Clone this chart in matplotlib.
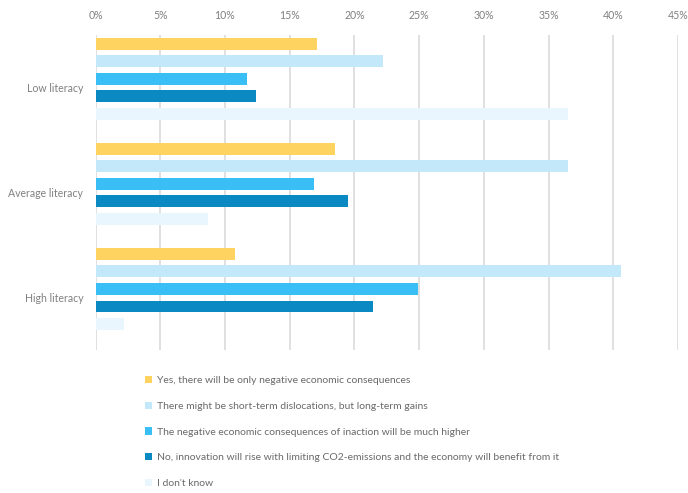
import numpy as np
import matplotlib
matplotlib.use("Agg")
import matplotlib.pyplot as plt
from matplotlib.patches import Patch
from matplotlib.ticker import FuncFormatter

plt.rcParams["font.family"] = ["Lato", "DejaVu Sans"]

groups = ["Low literacy", "Average literacy", "High literacy"]
answers = [
    "Yes, there will be only negative economic consequences",
    "There might be short-term dislocations, but long-term gains",
    "The negative economic consequences of inaction will be much higher",
    "No, innovation will rise with limiting CO2-emissions and the economy will benefit from it",
    "I don't know",
]
colors = ["#FFD35F", "#C3E8FA", "#39BEF5", "#0B89C3", "#E9F6FD"]

# share of respondents (%) per answer, one list per literacy group
low = [17.1, 22.2, 11.7, 12.4, 36.5]
average = [18.5, 36.5, 16.9, 19.5, 8.7]
high = [10.8, 40.6, 24.9, 21.4, 2.2]
values = np.array([low, average, high])

fig = plt.figure(figsize=(6.88, 4.93), dpi=100)
ax = fig.add_axes([0.139, 0.29, 0.8465, 0.639])

slot = 1 / 6
for i, (ans, col) in enumerate(zip(answers, colors)):
    ypos = np.arange(len(groups)) - 0.5 + (i + 0.5) * slot
    ax.barh(ypos, values[:, i], height=slot * 0.66, color=col, label=ans, zorder=3)

ax.set_xlim(0, 45)
ax.set_ylim(2.5, -0.5)
ax.set_xticks(np.arange(0, 46, 5))
ax.xaxis.set_major_formatter(FuncFormatter(lambda v, p: f"{v:.0f}%"))
ax.xaxis.tick_top()
ax.set_yticks(range(len(groups)))
ax.set_yticklabels(groups)
ax.tick_params(axis="both", length=0, colors="#808080", labelsize=7.6)
ax.tick_params(axis="x", pad=10)
ax.tick_params(axis="y", pad=9)
ax.grid(axis="x", color="#dadada", linewidth=1.2, zorder=0)
for s in ax.spines.values():
    s.set_visible(False)

handles = [Patch(facecolor=c, edgecolor="none") for c in colors]
fig.legend(handles, answers, loc="upper left", bbox_to_anchor=(0.211, 0.237),
           frameon=False, fontsize=7.5, labelcolor="#6a6a6a",
           handlelength=0.7, handleheight=0.7, handletextpad=0.45,
           labelspacing=1.57, borderpad=0, borderaxespad=0)

fig.savefig("out.png", dpi=100)
